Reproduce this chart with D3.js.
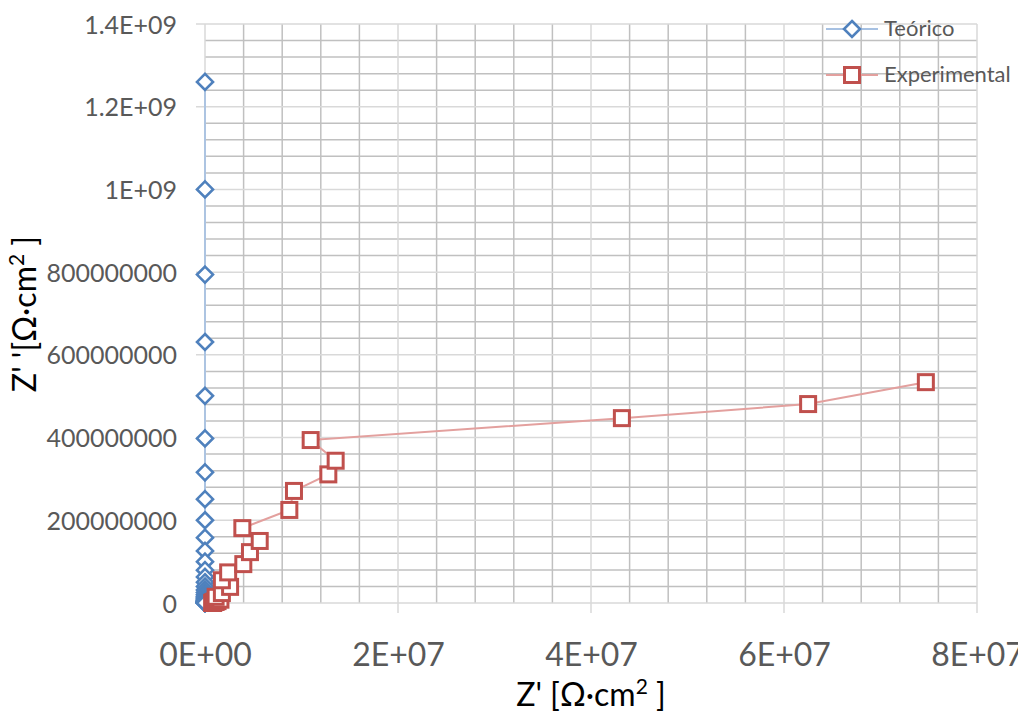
<!DOCTYPE html>
<html><head><meta charset="utf-8">
<script src="https://cdn.jsdelivr.net/npm/d3@7/dist/d3.min.js"></script>
<style>
html,body{margin:0;padding:0;background:#fff;}
svg{display:block;font-family:Lato, "Open Sans", sans-serif;}
</style></head>
<body><svg id="c" width="1018" height="714"></svg>
<script>
// ---- data ----
const seriesNames = ["Teórico", "Experimental"];
const xTickValues = [0, 2e7, 4e7, 6e7, 8e7];
const xTickLabels = ["0E+00", "2E+07", "4E+07", "6E+07", "8E+07"];
const yTickValues = [0, 2e8, 4e8, 6e8, 8e8, 1e9, 1.2e9, 1.4e9];
const yTickLabels = ["0", "200000000", "400000000", "600000000", "800000000", "1E+09", "1.2E+09", "1.4E+09"];
// Teórico: Z' (x) ~ 0, Z'' (y)
const teoricoX = [0,0,0,0,0,0,0,0,0,0,0,0,0,0,0,0,0,0,0,0,0,0,0,0,0,0,0,0,0,0,0,0,0,0,0,0,0,0];
const teoricoY = [1.26e9, 1.0e9, 7.94e8, 6.31e8, 5.01e8, 3.98e8, 3.16e8, 2.51e8, 2.0e8, 1.58e8,
  1.26e8, 1.0e8, 7.94e7, 6.31e7, 5.01e7, 3.98e7, 3.16e7, 2.51e7, 2.0e7, 1.58e7,
  1.26e7, 1.0e7, 7.94e6, 6.31e6, 5.01e6, 3.98e6, 3.16e6, 2.51e6, 2.0e6, 1.58e6,
  1.26e6, 1.0e6, 6.0e5, 3.0e5, 2.0e5, 1.0e5, 5.0e4, 2.0e4];
// Experimental
const expX = [7.6e5, 7.8e5, 8.0e5, 8.2e5, 8.5e5, 9.0e5, 1.0e6, 1.1e6, 1.3e6, 1.15e6, 1.35e6, 1.6e6,
  1.1e6, 1.75e6, 2.6e6, 1.75e6, 2.4e6, 3.97e6, 4.66e6, 5.67e6, 3.87e6, 8.74e6, 9.22e6, 1.278e7,
  1.354e7, 1.095e7, 4.32e7, 6.25e7, 7.47e7];
const expY = [0.5e5, 1.0e5, 2.0e5, 5.0e5, 1.0e6, 2.0e6, 3.5e6, 2.5e6, 4.5e6, 6.0e6, 1.0e7, 8.0e6,
  1.5e7, 2.4e7, 3.9e7, 5.5e7, 7.4e7, 9.4e7, 1.23e8, 1.50e8, 1.81e8, 2.25e8, 2.71e8, 3.11e8,
  3.44e8, 3.94e8, 4.47e8, 4.81e8, 5.34e8];

// ---- layout ----
const svg = d3.select("#c");
const x = d3.scaleLinear().domain([0, 8e7]).range([205, 977]);
const y = d3.scaleLinear().domain([0, 1.4e9]).range([603, 24]);
const blue = "#4f81bd", blueLine = "#a7c1e2", red = "#c0504d", redLine = "#e3a09e";
const minorCol = "#c0c0c0", majorCol = "#d9d9d9", labelCol = "#595959";

// minor gridlines
const xMinor = d3.range(0, 8e7 + 1, 4e6).filter(v => v % 2e7 !== 0);
const yMinor = d3.range(0, 1.4e9 + 1, 4e7).filter(v => Math.round(v) % 2e8 !== 0);
const g = svg.append("g");
g.selectAll("line.xm").data(xMinor).join("line")
  .attr("x1", d => x(d)).attr("x2", d => x(d)).attr("y1", y(0)).attr("y2", y(1.4e9))
  .attr("stroke", minorCol).attr("stroke-width", 1.5);
g.selectAll("line.ym").data(yMinor).join("line")
  .attr("y1", d => y(d)).attr("y2", d => y(d)).attr("x1", x(0)).attr("x2", x(8e7))
  .attr("stroke", minorCol).attr("stroke-width", 1.5);
// major gridlines
g.selectAll("line.xM").data(xTickValues).join("line")
  .attr("x1", d => x(d)).attr("x2", d => x(d)).attr("y1", y(0)+10).attr("y2", y(1.4e9))
  .attr("stroke", majorCol).attr("stroke-width", 1.5);
g.selectAll("line.yM").data(yTickValues).join("line")
  .attr("y1", d => y(d)).attr("y2", d => y(d)).attr("x1", x(0)-9).attr("x2", x(8e7))
  .attr("stroke", majorCol).attr("stroke-width", 1.5);

// axes (labels only)
const xAxis = d3.axisBottom(x).tickValues(xTickValues)
  .tickFormat((d, i) => xTickLabels[i]).tickSize(0).tickPadding(0);
const gx = svg.append("g").attr("transform", `translate(0,${y(0)})`).call(xAxis);
gx.select(".domain").remove();
gx.selectAll("text").attr("y", 63).attr("dy", null).attr("fill", labelCol)
  .style("font-size", "32px").style("font-family", "Lato");

const yAxis = d3.axisLeft(y).tickValues(yTickValues)
  .tickFormat((d, i) => yTickLabels[i]).tickSize(0).tickPadding(0);
const gy = svg.append("g").attr("transform", `translate(${x(0)},0)`).call(yAxis);
gy.select(".domain").remove();
gy.selectAll("text").attr("x", -28).attr("dy", "0.36em").attr("fill", labelCol)
  .style("font-size", "25px").style("font-family", "Lato");

// axis titles
svg.append("text").attr("x", 591).attr("y", 706).attr("text-anchor", "middle")
  .attr("fill", "#000").style("font-size", "32px")
  .html("Z' [Ω·cm<tspan dy='-12' font-size='21px'>2</tspan><tspan dy='12'> ]</tspan>");
svg.append("text").attr("transform", "translate(36,314) rotate(-90)").attr("text-anchor", "middle")
  .attr("fill", "#000").style("font-size", "32px")
  .html("Z' '[Ω·cm<tspan dy='-12' font-size='21px'>2</tspan><tspan dy='12'> ]</tspan>");

// series
const teo = teoricoX.map((v, i) => [v, teoricoY[i]]);
const exp = expX.map((v, i) => [v, expY[i]]);
svg.append("path").datum(teo)
  .attr("d", d3.line().x(d => x(d[0])).y(d => y(d[1])))
  .attr("fill", "none").attr("stroke", blueLine).attr("stroke-width", 1.8);
svg.append("path").datum(exp)
  .attr("d", d3.line().x(d => x(d[0])).y(d => y(d[1])))
  .attr("fill", "none").attr("stroke", redLine).attr("stroke-width", 2);

const diamond = "M0,-8L8,0L0,8L-8,0Z";
svg.append("g").selectAll("path").data(teo).join("path")
  .attr("transform", d => `translate(${x(d[0])},${y(d[1])})`)
  .attr("d", diamond).attr("fill", "#fff").attr("stroke", blue).attr("stroke-width", 2.6);
svg.append("g").selectAll("rect").data(exp).join("rect")
  .attr("x", d => x(d[0]) - 7.5).attr("y", d => y(d[1]) - 7.5)
  .attr("width", 15).attr("height", 15)
  .attr("fill", "#fff").attr("stroke", red).attr("stroke-width", 3);

// legend
const lg = svg.append("g");
const legendRows = [{name: seriesNames[0], yy: 29, line: blueLine, col: blue, shape: "d"},
                    {name: seriesNames[1], yy: 75, line: redLine, col: red, shape: "s"}];
legendRows.forEach(r => {
  lg.append("line").attr("x1", 826).attr("x2", 878).attr("y1", r.yy).attr("y2", r.yy)
    .attr("stroke", r.line).attr("stroke-width", 2);
  if (r.shape === "d") {
    lg.append("path").attr("transform", `translate(852,${r.yy})`).attr("d", diamond)
      .attr("fill", "#fff").attr("stroke", r.col).attr("stroke-width", 2.6);
  } else {
    lg.append("rect").attr("x", 852 - 7.5).attr("y", r.yy - 7.5).attr("width", 15).attr("height", 15)
      .attr("fill", "#fff").attr("stroke", r.col).attr("stroke-width", 3);
  }
  lg.append("text").attr("x", 884).attr("y", r.yy + 7).attr("fill", labelCol)
    .style("font-size", "22px").text(r.name);
});
</script></body></html>
